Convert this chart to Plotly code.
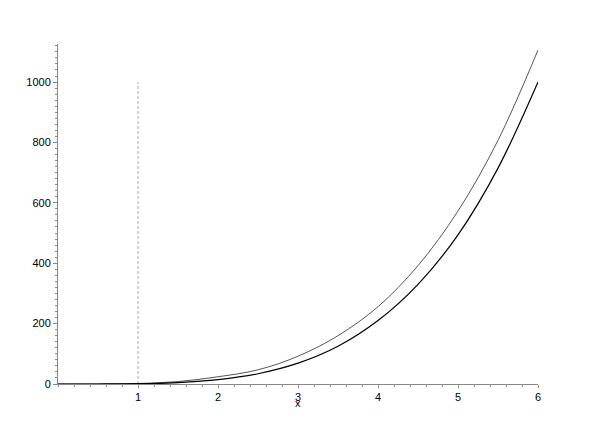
import plotly.graph_objs as go

# values
x_vals = [0, 0.5, 1, 1.5, 2, 2.5, 3, 3.5, 4, 4.5, 5, 5.5, 6]
upper_vals = [0, 0.2, 1.7, 8, 24, 47, 92, 160, 256, 392, 573, 807, 1106]
lower_vals = [0, 0.07, 1, 4.8, 14.5, 34, 69, 125, 210, 330, 494, 715, 1000]

marker_x = [1, 1]
marker_y = [0, 1000]

x_ticks = [1, 2, 3, 4, 5, 6]
y_ticks = [0, 200, 400, 600, 800, 1000]

fig = go.Figure()

fig.add_trace(go.Scatter(x=marker_x, y=marker_y, mode='lines',
                         line=dict(color='#aaaaaa', width=1, dash='3px,2px')))
fig.add_trace(go.Scatter(x=x_vals, y=upper_vals, mode='lines', line_shape='spline',
                         line=dict(color='#555555', width=1)))
fig.add_trace(go.Scatter(x=x_vals, y=lower_vals, mode='lines', line_shape='spline',
                         line=dict(color='#000000', width=1.2)))

# page body has an 8px margin, so the figure is a bit smaller than the window
fig.update_layout(
    width=591, height=426,
    margin=dict(l=50, r=61, t=36, b=50),
    paper_bgcolor='white', plot_bgcolor='white',
    showlegend=False,
    font=dict(family='Liberation Sans, Arial, sans-serif', size=11, color='black'),
    xaxis=dict(
        range=[0, 6], showgrid=False, zeroline=False,
        showline=True, linecolor='#888888', linewidth=1,
        tickmode='array', tickvals=x_ticks,
        ticks='outside', ticklen=3, tickcolor='#888888',
        minor=dict(dtick=0.2, ticklen=2, ticks='outside', tickcolor='#888888', showgrid=False),
    ),
    yaxis=dict(
        range=[0, 1126], showgrid=False, zeroline=False,
        showline=True, linecolor='#888888', linewidth=1,
        tickmode='array', tickvals=y_ticks,
        ticks='outside', ticklen=4, tickcolor='#888888',
        minor=dict(dtick=20, ticklen=2, ticks='outside', tickcolor='#888888', showgrid=False),
    ),
    annotations=[dict(text='x', x=3, y=0, xref='x', yref='y', yshift=-19,
                      showarrow=False, font=dict(size=11))],
)

fig.write_html("out.html")
